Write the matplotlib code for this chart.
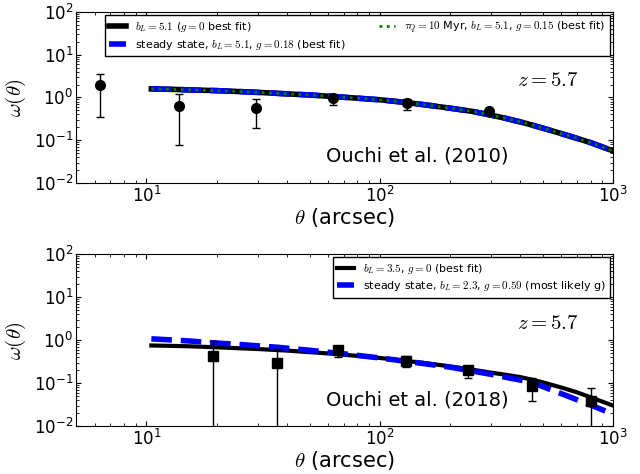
import numpy as np
import matplotlib.pyplot as plt

plt.rcParams['mathtext.fontset'] = 'cm'
plt.rcParams['xtick.direction'] = 'in'
plt.rcParams['ytick.direction'] = 'in'
plt.rcParams['xtick.top'] = True
plt.rcParams['ytick.right'] = True
plt.rcParams['xtick.minor.visible'] = True
plt.rcParams['ytick.minor.visible'] = True
plt.rcParams['xtick.labelsize'] = 12
plt.rcParams['ytick.labelsize'] = 12

# Ouchi et al. (2010) data
th10 = [6.3, 13.8, 29.4, 63, 131, 293]
w10 = [1.93, 0.64, 0.56, 0.96, 0.74, 0.49]
w10_lo = [0.345, 0.076, 0.19, 0.67, 0.50, 0.44]
w10_hi = [3.45, 1.19, 0.93, 1.19, 0.91, 0.54]

# model curves for top panel (all three overlap)
th_top = [10.5, 13, 16.6, 20, 25, 32, 40, 50, 63, 80, 100, 130, 160, 200, 250,
          290, 350, 420, 525, 650, 800, 1000]
w_top = [1.58, 1.54, 1.48, 1.44, 1.37, 1.29, 1.21, 1.14, 1.05, 0.96, 0.88, 0.76,
         0.66, 0.56, 0.47, 0.40, 0.32, 0.25, 0.177, 0.125, 0.088, 0.056]

# Ouchi et al. (2018) data
th18 = [19.3, 36.4, 66, 130, 238, 447, 801]
w18 = [0.43, 0.30, 0.59, 0.33, 0.20, 0.085, 0.039]
w18_lo = [1e-4, 1e-4, 0.41, 0.24, 0.128, 0.039, 1e-4]
w18_hi = [0.93, 0.63, 0.73, 0.43, 0.25, 0.13, 0.078]

# model curves for bottom panel
th_blk = [10.5, 15, 20, 30, 40, 60, 80, 100, 150, 200, 250, 300, 350, 400, 450,
          500, 600, 700, 800, 900, 1000]
w_blk = [0.75, 0.72, 0.68, 0.62, 0.57, 0.49, 0.43, 0.385, 0.30, 0.245, 0.205,
         0.175, 0.155, 0.138, 0.120, 0.104, 0.079, 0.061, 0.047, 0.037, 0.030]
th_blu = [10.5, 15, 19, 25, 36.6, 50, 70, 100, 150, 200, 231, 300, 350, 447,
          550, 650, 800, 1000]
w_blu = [1.07, 0.96, 0.87, 0.79, 0.68, 0.58, 0.48, 0.385, 0.29, 0.235, 0.205,
         0.160, 0.135, 0.105, 0.068, 0.048, 0.031, 0.019]

fig = plt.figure(figsize=(6.4, 4.74), dpi=100)
ax1 = fig.add_axes([0.119, 0.614, 0.839, 0.361])
ax2 = fig.add_axes([0.119, 0.101, 0.839, 0.363])

# top panel
ax1.plot(th_top, w_top, 'k-', lw=4, label=r'$b_L=5.1$ ($g=0$ best fit)')
ax1.plot(th_top, w_top, '--', color='blue', lw=4, label=r'steady state, $b_L=5.1$, $g=0.18$ (best fit)')
ax1.plot(th_top, w_top, ':', color='green', lw=2, label=r'$\tau_Q=10$ Myr, $b_L=5.1$, $g=0.15$ (best fit)')
err10 = [np.array(w10) - np.array(w10_lo), np.array(w10_hi) - np.array(w10)]
ax1.errorbar(th10, w10, yerr=err10, fmt='o', color='k', ms=7, capsize=3, elinewidth=1)
ax1.legend(loc='upper right', ncol=2, fontsize=8, handlelength=1.5, borderaxespad=0.3,
           labelspacing=0.3, fancybox=False, edgecolor='k', framealpha=1, columnspacing=3)
ax1.text(0.879, 0.60, r'$z=5.7$', transform=ax1.transAxes, fontsize=15, ha='center', va='center')
ax1.text(0.635, 0.157, 'Ouchi et al. (2010)', transform=ax1.transAxes, fontsize=14, ha='center', va='center')

# bottom panel
ax2.plot(th_blk, w_blk, 'k-', lw=3, label=r'$b_L=3.5$, $g=0$ (best fit)')
ax2.plot(th_blu, w_blu, '--', color='blue', lw=4, label=r'steady state, $b_L=2.3$, $g=0.59$ (most likely g)')
err18 = [np.array(w18) - np.array(w18_lo), np.array(w18_hi) - np.array(w18)]
ax2.errorbar(th18, w18, yerr=err18, fmt='s', color='k', ms=7, capsize=3, elinewidth=1)
ax2.legend(loc='upper right', fontsize=8, handlelength=1.5, borderaxespad=0.3,
           labelspacing=0.3, fancybox=False, edgecolor='k', framealpha=1)
ax2.text(0.879, 0.60, r'$z=5.7$', transform=ax2.transAxes, fontsize=15, ha='center', va='center')
ax2.text(0.635, 0.151, 'Ouchi et al. (2018)', transform=ax2.transAxes, fontsize=14, ha='center', va='center')

for ax in (ax1, ax2):
    ax.set_xscale('log')
    ax.set_yscale('log')
    ax.set_xlim(5, 1000)
    ax.set_ylim(1e-2, 1e2)
    ax.tick_params(which='major', pad=2)
    ax.set_xlabel(r'$\theta$ (arcsec)', fontsize=15, labelpad=0)
    ax.set_ylabel(r'$\omega(\theta)$', fontsize=15)

plt.savefig('out.png', dpi=100)
